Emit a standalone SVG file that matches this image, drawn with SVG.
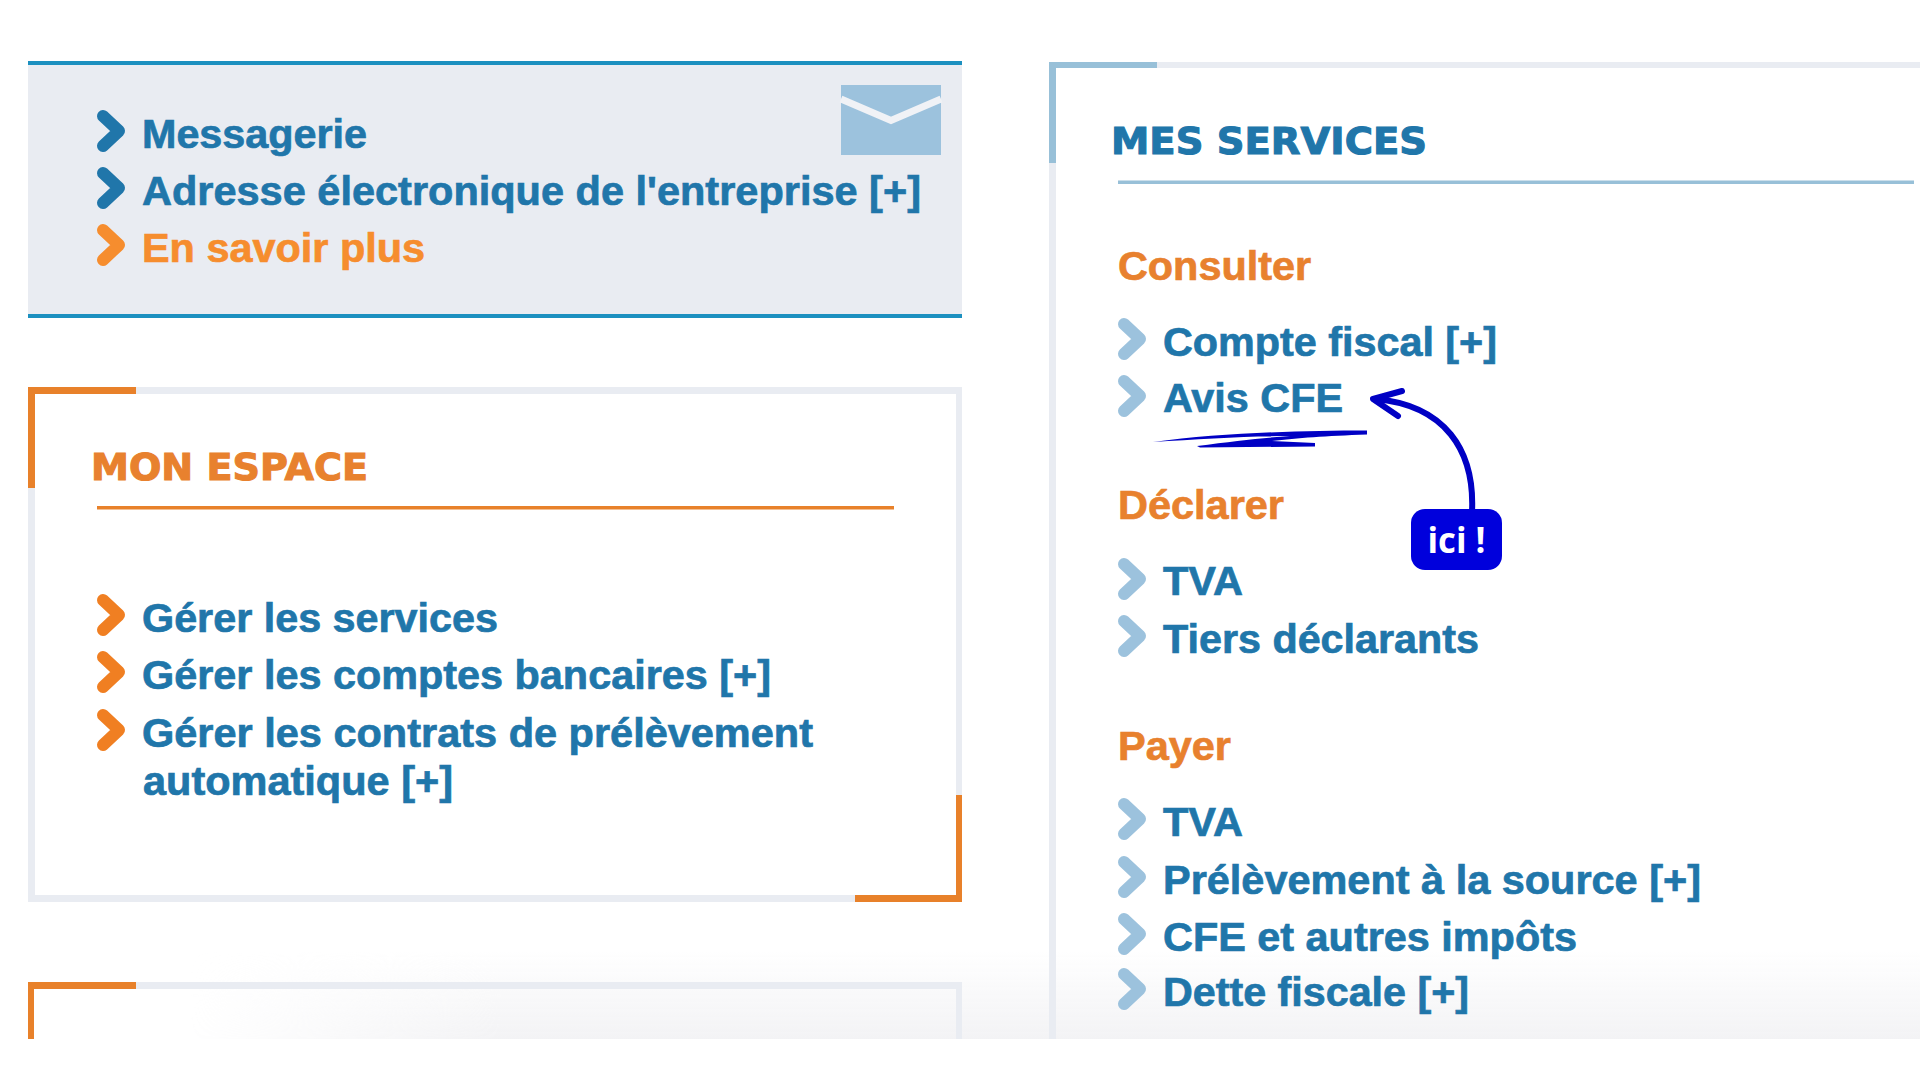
<svg xmlns="http://www.w3.org/2000/svg" width="1920" height="1080" viewBox="0 0 1920 1080">
<style>
text{font-family:"Liberation Sans",Arial,sans-serif;font-weight:700;font-size:41px;stroke-width:.7px}
text.cap{font-family:"DejaVu Sans",Verdana,sans-serif;font-size:38px;stroke-width:1.1px}
.link{fill:#2076aa;stroke:#2076aa}
.more{fill:#f68d2e;stroke:#f68d2e}
.head{fill:#e8812e;stroke:#e8812e}
.frame{fill:#e9ecf2}
.or{fill:#e8812a}
.bl{fill:#98c0d8}
.ink{fill:none;stroke:#0000c4;stroke-width:6;stroke-linecap:round;stroke-linejoin:round}
</style>
<defs>
<path id="c" d="M-7,-15 L9,0 L-7,15" fill="none" stroke-width="12" stroke-linejoin="round" stroke-linecap="round"/>
<linearGradient id="fadeV" x1="0" y1="0" x2="0" y2="1"><stop offset="0" stop-color="#f3f3f5" stop-opacity="0"/><stop offset="1" stop-color="#f3f3f5"/></linearGradient>
<linearGradient id="fadeH" x1="0" y1="0" x2="1" y2="0"><stop offset="0" stop-color="#000"/><stop offset="0.18" stop-color="#fff"/></linearGradient>
<mask id="m" maskUnits="userSpaceOnUse" x="190" y="950" width="1730" height="89"><rect x="190" y="950" width="1730" height="89" fill="url(#fadeH)"/></mask>
</defs>
<rect width="1920" height="1080" fill="#fff"/>
<rect x="190" y="950" width="1730" height="89" fill="url(#fadeV)" mask="url(#m)"/>
<g id="messagerie">
<rect x="28" y="62" width="934" height="255" class="frame"/>
<rect x="28" y="61" width="934" height="4" fill="#1c90c0"/>
<rect x="28" y="314" width="934" height="4" fill="#1c90c0"/>
<g id="envelope"><rect x="841" y="85" width="100" height="70" fill="#9cc2dd"/><path d="M841,99 L891,120.500 L941,99" fill="none" stroke="#f0f2f6" stroke-width="7"/></g>
<use href="#c" x="110" y="131" stroke="#2076aa"/>
<use href="#c" x="110" y="188" stroke="#2076aa"/>
<use href="#c" x="110" y="245" stroke="#f68d2e"/>
<text class="link" x="142" y="148" textLength="225" lengthAdjust="spacingAndGlyphs">Messagerie</text>
<text class="link" x="142" y="205" textLength="779" lengthAdjust="spacingAndGlyphs">Adresse électronique de l'entreprise [+]</text>
<text class="more" x="142" y="262" textLength="283" lengthAdjust="spacingAndGlyphs">En savoir plus</text>
</g>
<g id="mon-espace">
<rect x="28" y="387" width="934" height="7" class="frame"/><rect x="28" y="895" width="934" height="7" class="frame"/>
<rect x="28" y="387" width="7" height="515" class="frame"/><rect x="956" y="387" width="6" height="515" class="frame"/>
<rect x="28" y="387" width="108" height="7" class="or"/><rect x="28" y="387" width="7" height="101" class="or"/>
<rect x="855" y="895" width="107" height="7" class="or"/><rect x="956" y="795" width="6" height="107" class="or"/>
<text class="head cap" x="91" y="480" textLength="277" lengthAdjust="spacingAndGlyphs">MON ESPACE</text>
<rect x="97" y="506" width="797" height="3.500" class="or"/>
<use href="#c" x="110" y="615" stroke="#f07f22"/>
<use href="#c" x="110" y="672" stroke="#f07f22"/>
<use href="#c" x="110" y="730" stroke="#f07f22"/>
<text class="link" x="142" y="632" textLength="356" lengthAdjust="spacingAndGlyphs">Gérer les services</text>
<text class="link" x="142" y="689" textLength="629" lengthAdjust="spacingAndGlyphs">Gérer les comptes bancaires [+]</text>
<text class="link" x="142" y="747" textLength="671" lengthAdjust="spacingAndGlyphs">Gérer les contrats de prélèvement</text>
<text class="link" x="143" y="795" textLength="310" lengthAdjust="spacingAndGlyphs">automatique [+]</text>
</g>
<g id="panel-bas">
<rect x="28" y="982" width="934" height="7" class="frame"/>
<rect x="956" y="982" width="6" height="57" class="frame"/>
<rect x="28" y="982" width="108" height="7" class="or"/><rect x="28" y="982" width="6" height="57" class="or"/>
</g>
<g id="mes-services">
<rect x="1049" y="62" width="871" height="6" class="frame"/>
<rect x="1049" y="62" width="7" height="977" class="frame"/>
<rect x="1049" y="62" width="108" height="6" class="bl"/><rect x="1049" y="62" width="7" height="101" class="bl"/>
<text class="link cap" x="1111" y="154" textLength="316" lengthAdjust="spacingAndGlyphs">MES SERVICES</text>
<rect x="1118" y="180.500" width="796" height="3.500" class="bl"/>
<text class="head" x="1118" y="280" textLength="193" lengthAdjust="spacingAndGlyphs">Consulter</text>
<text class="head" x="1118" y="519" textLength="166" lengthAdjust="spacingAndGlyphs">Déclarer</text>
<text class="head" x="1118" y="760" textLength="113" lengthAdjust="spacingAndGlyphs">Payer</text>
<g stroke="#9cc2dd">
<use href="#c" x="1131" y="339"/><use href="#c" x="1131" y="396"/>
<use href="#c" x="1131" y="579"/><use href="#c" x="1131" y="636"/>
<use href="#c" x="1131" y="819"/><use href="#c" x="1131" y="877"/><use href="#c" x="1131" y="934"/><use href="#c" x="1131" y="989"/>
</g>
<text class="link" x="1163" y="356" textLength="334" lengthAdjust="spacingAndGlyphs">Compte fiscal [+]</text>
<text class="link" x="1163" y="412" textLength="180" lengthAdjust="spacingAndGlyphs">Avis CFE</text>
<text class="link" x="1163" y="595" textLength="80" lengthAdjust="spacingAndGlyphs">TVA</text>
<text class="link" x="1163" y="653" textLength="316" lengthAdjust="spacingAndGlyphs">Tiers déclarants</text>
<text class="link" x="1163" y="836" textLength="80" lengthAdjust="spacingAndGlyphs">TVA</text>
<text class="link" x="1163" y="894" textLength="538" lengthAdjust="spacingAndGlyphs">Prélèvement à la source [+]</text>
<text class="link" x="1163" y="951" textLength="414" lengthAdjust="spacingAndGlyphs">CFE et autres impôts</text>
<text class="link" x="1163" y="1006" textLength="306" lengthAdjust="spacingAndGlyphs">Dette fiscale [+]</text>
</g>
<g id="connectors">
<path d="M1153,442 C1220,433 1300,430.500 1367,430.500 L1367,434.500 C1325,436 1298,438 1272,441 L1315,443 L1315,446.500 L1200,447.500 L1197,446 C1235,441 1262,438 1290,436 C1250,436 1200,439 1153,442 Z" fill="#0000c4"/>
<path class="ink" d="M1472,512 C1475,450 1445,405 1375,399"/>
<path class="ink" d="M1402,391 L1373,399 L1398,416"/>
</g>
<g id="badge">
<rect x="1411" y="509" width="91" height="61" rx="14" fill="#0000dc"/>
<text x="1456.500" y="553" text-anchor="middle" fill="#fff" style="font-family:'Open Sans',sans-serif;font-size:35px" textLength="58" lengthAdjust="spacingAndGlyphs">ici !</text>
</g>
</svg>
